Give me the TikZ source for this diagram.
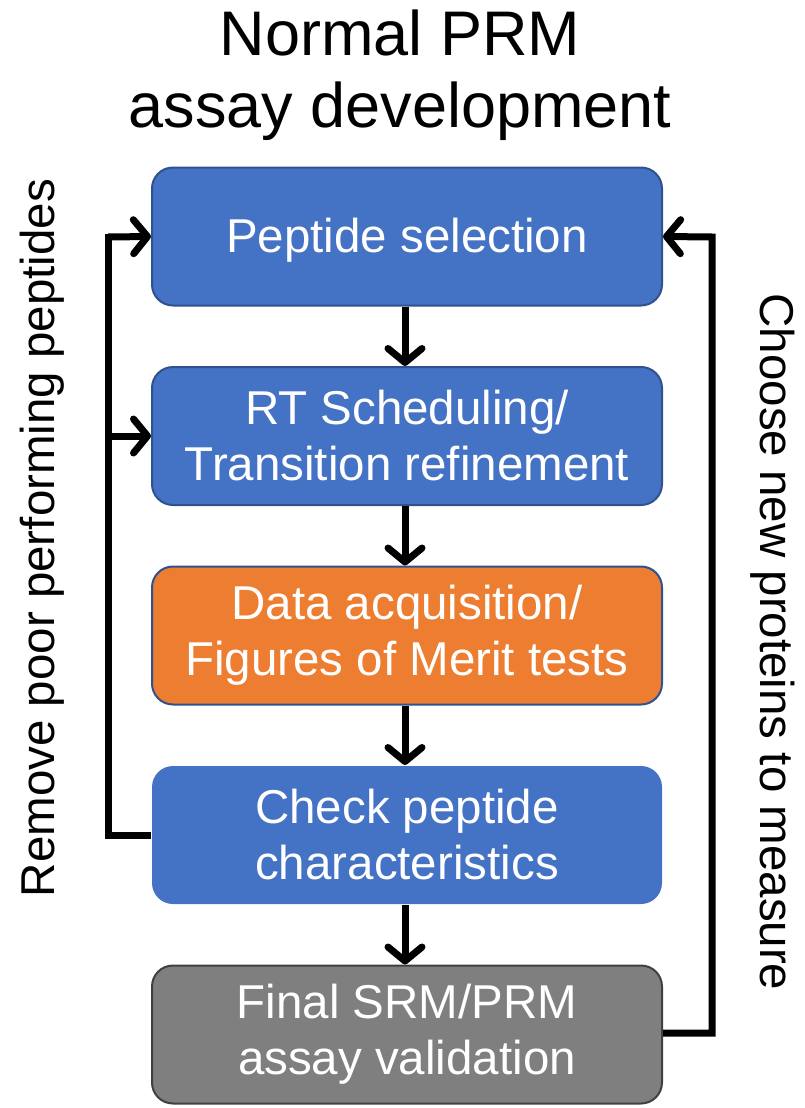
\documentclass[tikz,border=0pt]{standalone}
\usepackage{fontspec}
\setmainfont{Liberation Sans}
\usetikzlibrary{arrows.meta}
\definecolor{stepblue}{HTML}{4472C4}
\definecolor{stepedge}{HTML}{2F528F}
\definecolor{steporange}{HTML}{ED7D31}
\definecolor{stepgray}{HTML}{7F7F7F}
\definecolor{grayedge}{HTML}{404040}
\begin{document}
\begin{tikzpicture}[x=1pt,y=-1pt,
  stepbox/.style={rounded corners=21pt, minimum width=510pt, minimum height=138pt,
    text=white, font=\fontsize{47.5}{56}\selectfont, align=center, inner sep=0pt,
    line width=2pt},
  flow/.style={line width=7pt, -{Straight Barb[length=14pt,width=34pt,round]}},
  loop/.style={line width=7pt},
  sidelabel/.style={font=\fontsize{47.5}{55}\selectfont, inner sep=0pt}
]
\useasboundingbox (0,0) rectangle (805,1108);

% title
\node[font=\fontsize{63}{72}\selectfont, align=center, inner sep=0pt] (title) at (400,75)
  {Normal PRM\\assay development};

% workflow steps
\node[stepbox, fill=stepblue, draw=stepedge] (sel) at (407,236.5) {};
\node[text=white, font=\fontsize{47.5}{56}\selectfont, inner sep=0pt] (seltext) at (407,240) {Peptide selection};
\node[stepbox, fill=stepblue, draw=stepedge] (rt) at (407,436) {RT Scheduling/\\Transition refinement};
\node[stepbox, fill=steporange, draw=stepedge] (acq) at (407,635.5) {Data acquisition/\\Figures of Merit tests};
\node[stepbox, fill=stepblue] (chk) at (407,835) {Check peptide\\characteristics};
\node[stepbox, fill=stepgray, draw=grayedge] (fin) at (407,1034.5) {Final SRM/PRM\\assay validation};

% forward arrows
\draw[flow] (sel.south -| 405,0) -- (rt.north -| 405,0);
\draw[flow] (rt.south -| 405,0) -- (acq.north -| 405,0);
\draw[flow] (acq.south -| 405,0) -- (chk.north -| 405,0);
\draw[flow] (chk.south -| 405,0) -- (fin.north -| 405,0);

% feedback: remove poor performing peptides
\coordinate (lbot) at (108,835);
\coordinate (ltop) at (108,237);
\coordinate (lmid) at (108,436);
\draw[loop, line join=miter] (chk.west) -- (lbot) -- (ltop);
\draw[flow] (ltop) -- (sel.west);
\draw[flow] (lmid) -- (rt.west);
\draw[loop, line cap=rect] (108,237) -- (108,238);

% feedback: choose new proteins
\coordinate (rbot) at (712,1033);
\coordinate (rtop) at (712,237);
\draw[line width=7pt, line join=miter, -{Straight Barb[length=14pt,width=34pt,round]}]
  (fin.east |- rbot) -- (rbot) -- (rtop) -- (sel.east);

% side labels
\node[sidelabel, rotate=90] (leftlab) at (42,538) {Remove poor performing peptides};
\node[sidelabel, rotate=-90] (rightlab) at (773,642) {Choose new proteins to measure};
\end{tikzpicture}
\end{document}
